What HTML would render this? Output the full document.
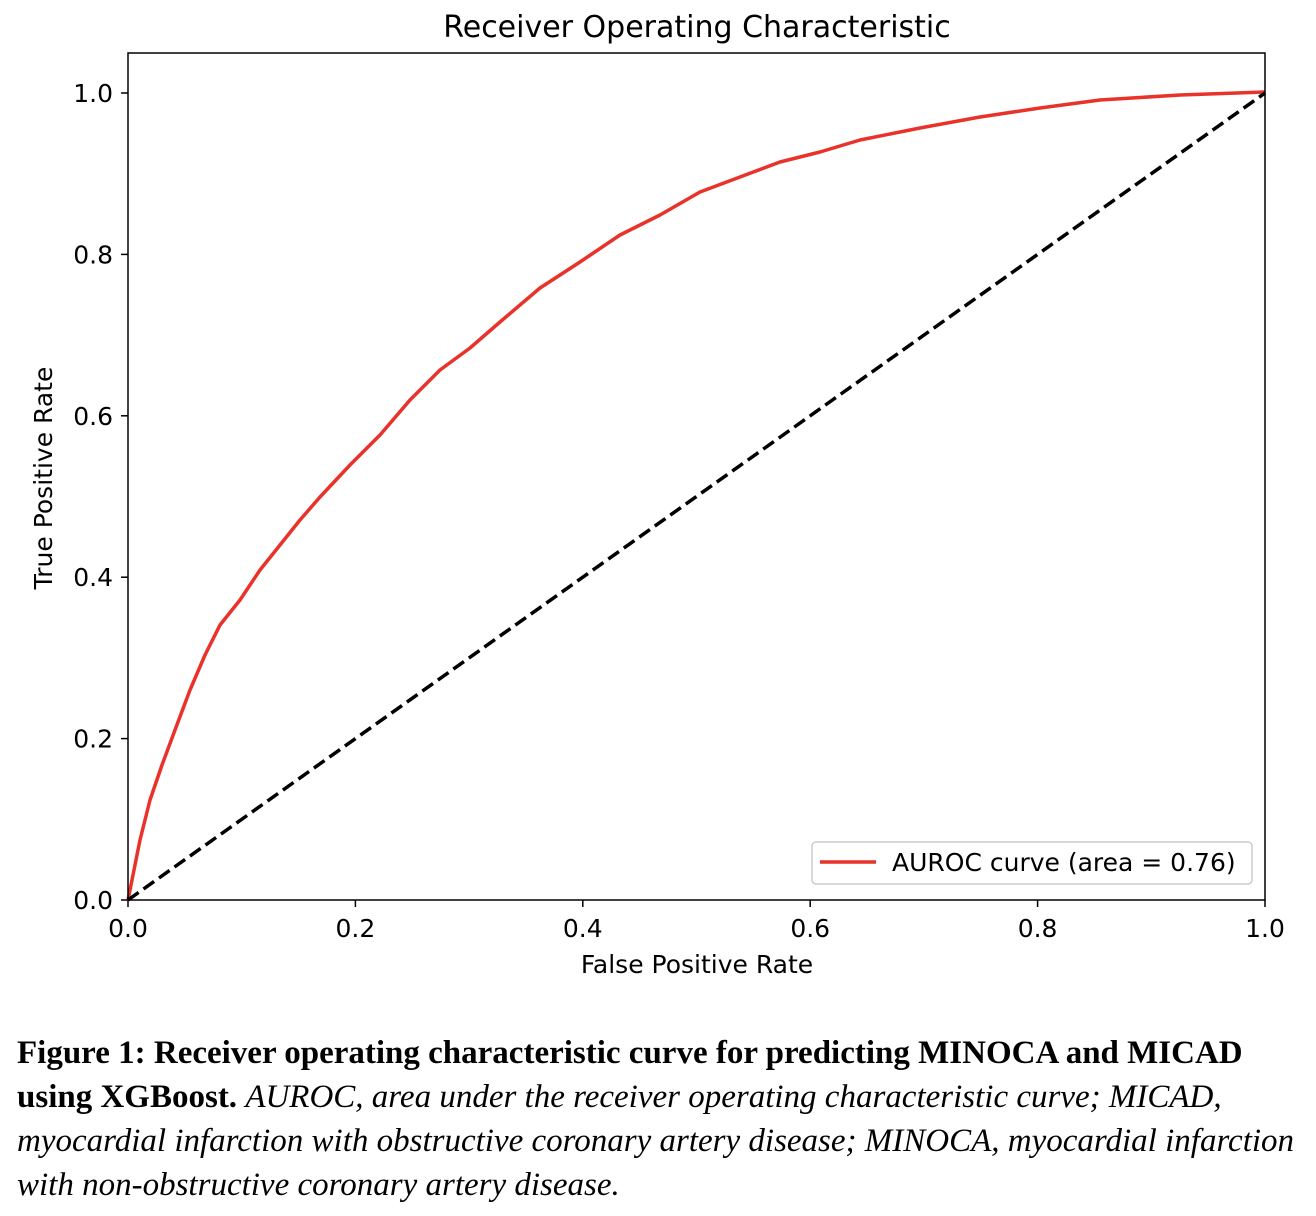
<!DOCTYPE html>
<html><head><meta charset="utf-8"><style>
body{margin:0;background:#fff;width:1316px;height:1216px;overflow:hidden;position:relative}
svg text{font-family:"DejaVu Sans","Liberation Sans",sans-serif;fill:#000}
.cap{position:absolute;left:17px;font-family:"Liberation Serif",serif;font-size:33px;line-height:36px;white-space:nowrap;color:#000}
</style></head><body>
<svg width="1316" height="1000" style="position:absolute;left:0;top:0">
<text x="697" y="37" font-size="30" text-anchor="middle">Receiver Operating Characteristic</text>
<g font-size="25" text-anchor="middle">
<line x1="128" y1="900" x2="128" y2="907" stroke="#000" stroke-width="1.5"/><text x="128" y="937">0.0</text>
<line x1="355.4" y1="900" x2="355.4" y2="907" stroke="#000" stroke-width="1.5"/><text x="355.4" y="937">0.2</text>
<line x1="582.8" y1="900" x2="582.8" y2="907" stroke="#000" stroke-width="1.5"/><text x="582.8" y="937">0.4</text>
<line x1="810.2" y1="900" x2="810.2" y2="907" stroke="#000" stroke-width="1.5"/><text x="810.2" y="937">0.6</text>
<line x1="1037.6" y1="900" x2="1037.6" y2="907" stroke="#000" stroke-width="1.5"/><text x="1037.6" y="937">0.8</text>
<line x1="1265" y1="900" x2="1265" y2="907" stroke="#000" stroke-width="1.5"/><text x="1265" y="937">1.0</text>
</g>
<g font-size="25" text-anchor="end">
<line x1="121" y1="900" x2="128" y2="900" stroke="#000" stroke-width="1.5"/><text x="113" y="909">0.0</text>
<line x1="121" y1="738.6" x2="128" y2="738.6" stroke="#000" stroke-width="1.5"/><text x="113" y="747.6">0.2</text>
<line x1="121" y1="577.2" x2="128" y2="577.2" stroke="#000" stroke-width="1.5"/><text x="113" y="586.2">0.4</text>
<line x1="121" y1="415.8" x2="128" y2="415.8" stroke="#000" stroke-width="1.5"/><text x="113" y="424.8">0.6</text>
<line x1="121" y1="254.4" x2="128" y2="254.4" stroke="#000" stroke-width="1.5"/><text x="113" y="263.4">0.8</text>
<line x1="121" y1="93" x2="128" y2="93" stroke="#000" stroke-width="1.5"/><text x="113" y="102">1.0</text>
</g>
<text x="697" y="973" font-size="25" text-anchor="middle">False Positive Rate</text>
<text transform="translate(52,478) rotate(-90)" font-size="25" text-anchor="middle">True Positive Rate</text>
<polyline fill="none" stroke="#e8322a" stroke-width="3.5" stroke-linejoin="round" points="128,900 140,840 150,800 162,765 175,730 190,690 205,655 220,625 240,600 260,570 280,545 300,520 320,497 350,465 380,435 410,400 440,370 470,348 500,322 540,288 580,262 620,235 660,215 700,192 740,177 780,162 820,152 860,140 920,128 980,117 1040,108 1100,100 1180,95 1265,92"/>
<line x1="128" y1="900" x2="1265" y2="93" stroke="#000" stroke-width="3.5" stroke-dasharray="13,6"/>
<rect x="128" y="53" width="1137" height="847" fill="none" stroke="#000" stroke-width="1.5"/>
<rect x="812" y="842" width="440" height="42" rx="4" fill="#fff" fill-opacity="0.8" stroke="#ccc" stroke-width="1.5"/>
<line x1="820" y1="862" x2="876" y2="862" stroke="#e8322a" stroke-width="3.5"/>
<text x="892" y="871" font-size="25">AUROC curve (area = 0.76)</text>
</svg>
<div class="cap" style="top:1035px"><b>Figure 1: Receiver operating characteristic curve for predicting MINOCA and MICAD</b></div>
<div class="cap" style="top:1079px"><b>using XGBoost.</b> <i>AUROC, area under the receiver operating characteristic curve; MICAD,</i></div>
<div class="cap" style="top:1123px"><i>myocardial infarction with obstructive coronary artery disease; MINOCA, myocardial infarction</i></div>
<div class="cap" style="top:1167px"><i>with non-obstructive coronary artery disease.</i></div>
</body></html>
